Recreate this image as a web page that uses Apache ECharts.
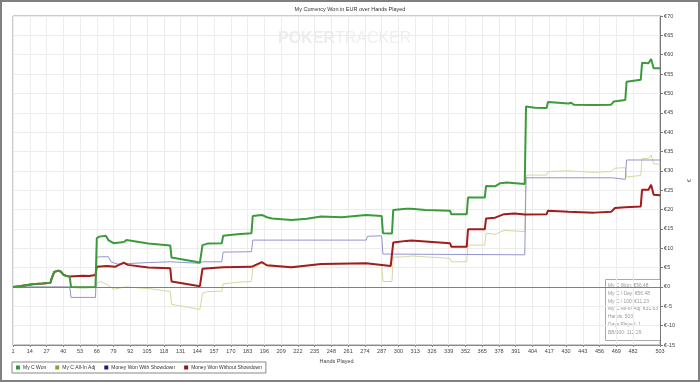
<!DOCTYPE html>
<html>
<head>
<meta charset="utf-8">
<script src="https://cdn.jsdelivr.net/npm/echarts@6/dist/echarts.min.js"></script>
<style>
  html, body { margin: 0; padding: 0; background: #fff; }
  #chart { width: 700px; height: 382px; }
</style>
</head>
<body>
<div id="chart"></div>
<script>
// hand ticks on the x axis
const xTicks = [1, 14, 27, 40, 53, 66, 79, 92, 105, 118, 131, 144, 157, 170, 183, 196, 209, 222, 235,
    248, 261, 274, 287, 300, 313, 326, 339, 352, 365, 378, 391, 404, 417, 430, 443, 456, 469, 482, 503];

// [hand, EUR]
const myCWon = [[1, 0], [6, 0.2], [16, 0.7], [24, 0.9], [30, 1.1], [31, 2.2], [33, 3.9], [36, 4.2], [38, 4.0],
    [40, 3.2], [42, 2.9], [45, 2.6], [46, 0], [55, -0.1], [65, 0], [66, 12.6], [68, 13.0], [73, 13.2],
    [75, 12.1], [79, 11.3], [87, 11.6], [89, 12.1], [106, 11.2], [123, 10.7], [124, 7.6], [146, 6.3],
    [147, 6.2], [148, 10.8], [152, 11.2], [163, 11.3], [164, 13.2], [175, 13.6], [186, 13.9], [187, 18.3],
    [194, 18.6], [198, 18.0], [202, 17.7], [217, 17.3], [229, 17.6], [240, 18.2], [256, 18.0], [275, 18.6],
    [287, 18.3], [288, 13.9], [295, 13.8], [296, 19.9], [306, 20.2], [310, 20.2], [321, 19.9], [340, 19.7],
    [341, 18.8], [353, 18.8], [354, 23.1], [367, 23.1], [368, 26.1], [375, 26.0], [379, 26.8], [384, 27.0],
    [398, 26.6], [399, 46.6], [406, 46.3], [415, 46.2], [416, 47.8], [432, 47.4], [434, 47.6], [436, 47.1],
    [452, 47.0], [465, 47.1], [467, 47.9], [476, 48.3], [477, 53.0], [488, 53.5], [489, 57.9], [494, 57.8],
    [496, 58.9], [498, 56.5], [503, 56.5]];

const allInAdj = [[1, 0], [65, 0], [66, 1.0], [69, 1.4], [74, 0.6], [79, -0.6], [88, 0], [106, -0.4],
    [123, -1.2], [124, -4.5], [146, -5.8], [147, -5.9], [148, -1.6], [152, -1.2], [163, -1.1], [164, 0.8],
    [175, 1.2], [186, 1.4], [187, 4.8], [194, 6.1], [198, 5.4], [217, 4.9], [240, 5.9], [275, 6.1],
    [287, 5.7], [288, 1.4], [295, 1.4], [296, 7.7], [306, 7.8], [310, 8.0], [340, 7.4], [341, 6.5],
    [353, 6.5], [354, 10.8], [367, 10.8], [368, 13.9], [375, 13.6], [382, 14.6], [398, 14.3], [399, 28.9],
    [415, 28.9], [416, 29.8], [432, 30.0], [452, 29.6], [465, 29.8], [468, 30.7], [476, 30.8], [477, 28.4],
    [488, 28.8], [489, 33.2], [494, 33.2], [496, 34.1], [498, 31.8], [503, 31.7]];

const wonShowdown = [[1, 0], [45, 0], [46, -2.7], [65, -2.7], [66, 7.7], [70, 7.8], [75, 7.8], [77, 6.5],
    [82, 5.9], [106, 6.3], [123, 6.5], [146, 6.1], [147, 5.7], [148, 6.5], [163, 6.5], [164, 9.0],
    [186, 9.1], [187, 12.1], [275, 12.1], [276, 13.1], [287, 13.2], [288, 8.5], [398, 8.3], [399, 28.2],
    [466, 28.2], [467, 27.7], [476, 27.8], [477, 32.8], [503, 32.8]];

const wonNoShowdown = [[1, 0], [6, 0.2], [16, 0.7], [24, 0.9], [30, 1.1], [31, 2.2], [33, 3.9], [36, 4.2],
    [38, 4.0], [40, 3.2], [42, 2.9], [45, 2.7], [55, 2.9], [60, 2.8], [65, 3.1], [66, 5.2], [74, 5.4],
    [80, 5.2], [87, 6.3], [90, 5.7], [106, 5.0], [123, 4.8], [124, 1.4], [146, 0.2], [147, 0.3], [148, 4.7],
    [164, 5.1], [186, 5.2], [187, 5.5], [194, 6.4], [198, 5.6], [217, 5.1], [240, 5.9], [275, 6.1],
    [294, 5.4], [295, 5.4], [296, 11.5], [306, 11.9], [310, 12.0], [340, 11.3], [341, 10.4], [353, 10.4],
    [354, 14.9], [367, 14.9], [368, 17.7], [375, 17.9], [382, 18.8], [390, 19.0], [398, 18.7], [415, 18.8],
    [416, 19.7], [432, 19.4], [452, 19.2], [465, 19.4], [468, 20.4], [476, 20.6], [488, 20.8], [489, 25.1],
    [494, 25.1], [496, 26.4], [498, 23.8], [503, 23.7]];

const infoLines = ['My C Won: €56.48', 'My C / Day: €56.48', 'My C / 100: €11.23', 'My C All-In Adj: €31.63',
    'Hands: 503', 'Days Played: 1', 'BB/100: 112.29'];

const font = 'Liberation Sans, Arial, sans-serif';

const chart = echarts.init(document.getElementById('chart'));

function lineSeries(name, data, iconColor, lineColor, width, z) {
    return {
        name: name,
        type: 'line',
        data: data,
        showSymbol: false,
        symbol: 'none',
        z: z,
        itemStyle: { color: iconColor },
        lineStyle: { color: lineColor, width: width },
        emphasis: { disabled: true }
    };
}

const series = [
    lineSeries('My C Won', myCWon, '#339933', '#3b9b3b', 2, 5),
    lineSeries('My C All-In Adj', allInAdj, '#999933', '#d6d6a0', 1, 3),
    lineSeries('Money Won With Showdown', wonShowdown, '#1a1a80', '#9393cf', 1, 3),
    lineSeries('Money Won Without Showdown', wonNoShowdown, '#8b1a1a', '#a31c1c', 2, 4)
];
series[1].markLine = {
    silent: true,
    symbol: 'none',
    label: { show: false },
    lineStyle: { color: '#808080', width: 1, type: 'solid' },
    data: [{ yAxis: 0 }]
};

chart.setOption({
    animation: false,
    textStyle: { fontFamily: font },
    title: {
        text: 'My Currency Won in EUR over Hands Played',
        left: 'center',
        top: 0,
        padding: [6, 5, 2, 5],
        textStyle: { fontSize: 5.5, fontWeight: 'normal', color: '#333' }
    },
    grid: {
        left: 13, right: 33, top: 16, bottom: 37,
        show: true, borderColor: '#999', borderWidth: 1
    },
    legend: {
        left: 12, top: 362,
        icon: 'rect',
        itemWidth: 4, itemHeight: 4, itemGap: 9,
        padding: [3, 4],
        borderColor: '#888', borderWidth: 1,
        textStyle: { fontSize: 5, color: '#333', padding: [0, 0, 0, -2] },
        data: series.map(s => s.name)
    },
    xAxis: {
        type: 'value',
        min: 1, max: 503,
        name: 'Hands Played',
        nameLocation: 'middle',
        nameGap: 11,
        nameTextStyle: { fontSize: 5.5, color: '#444' },
        axisLine: { show: true, onZero: false, lineStyle: { color: '#888' } },
        axisTick: { show: true, length: 2, customValues: xTicks, lineStyle: { color: '#888' } },
        axisLabel: { customValues: xTicks, fontSize: 5.5, color: '#444', margin: 3 },
        splitLine: { show: true, lineStyle: { color: '#ececec' } }
    },
    yAxis: {
        type: 'value',
        position: 'right',
        min: -15, max: 70, interval: 5,
        name: '€',
        nameLocation: 'middle',
        nameGap: 19,
        nameRotate: 90,
        nameTextStyle: { fontSize: 6, color: '#444' },
        axisLine: { show: true, lineStyle: { color: '#777' } },
        axisTick: { show: true, length: 3, lineStyle: { color: '#777' } },
        axisLabel: { fontSize: 5.5, color: '#444', margin: 4, formatter: v => '€' + v },
        splitLine: { show: true, lineStyle: { color: '#ececec' } }
    },
    graphic: [
        {
            type: 'rect', z: -1, silent: true,
            shape: { x: 1, y: 1, width: 698, height: 380 },
            style: { fill: 'none', stroke: '#808080', lineWidth: 2 }
        },
        {
            type: 'text', left: 278, top: 31, z: 0, silent: true,
            style: {
                text: '{b|POKER}{n|TRACKER}',
                rich: {
                    b: { fontSize: 16, fontWeight: 'bold', fill: '#ececec', fontFamily: font },
                    n: { fontSize: 16, fill: '#efefef', fontFamily: font }
                }
            }
        },
        {
            type: 'group', left: 605, top: 279, z: 10,
            children: [
                {
                    type: 'rect',
                    shape: { x: 0, y: 0, width: 55, height: 61 },
                    style: { fill: '#fff', stroke: '#aaa', lineWidth: 1 }
                },
                {
                    type: 'text', x: 2.5, y: 2,
                    style: {
                        text: infoLines.join('\n'),
                        fontSize: 4.9, lineHeight: 7.9, fill: '#999', fontFamily: font
                    }
                }
            ]
        }
    ],
    series: series
});

window.addEventListener('resize', () => chart.resize());
</script>
</body>
</html>
